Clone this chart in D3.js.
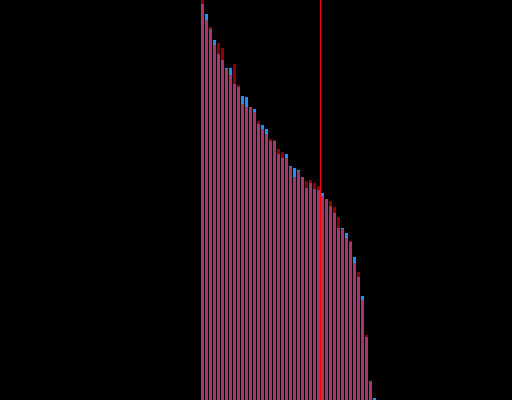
<!DOCTYPE html>
<html>
<head>
<meta charset="utf-8">
<script src="https://cdn.jsdelivr.net/npm/d3@7/dist/d3.min.js"></script>
<style>
  html, body { margin: 0; padding: 0; background: #000; }
  svg { display: block; }
</style>
</head>
<body>
<script>
// ---- data ----
const categories = d3.range(1, 45).map(String);
const seriesA = [400, 380, 373, 355, 357, 352, 331, 325, 336, 315, 296, 293, 293, 288, 279, 271, 266, 261, 260, 251, 248, 242, 233, 223, 229, 223, 219, 220, 217, 214, 204, 201, 199, 193, 183, 171, 162, 159, 137, 128, 100, 65, 19, 0];
const seriesB = [396, 386, 371, 360, 346, 340, 332, 332, 316, 313, 304, 303, 293, 291, 276, 275, 271, 259, 259, 246, 242, 246, 234, 232, 230, 223, 212, 217, 211, 210, 207, 201, 194, 187, 172, 172, 167, 158, 143, 123, 104, 63, 19, 2];
const markerCategory = "31";
const yDomain = [0, 400];

// ---- chart ----
const W = 512, H = 400;
const colors = { base: "#a3386b", up: "#1e90ff", down: "#8b0000", marker: "#ff0000" };

const svg = d3.select("body").append("svg").attr("width", W).attr("height", H);
svg.append("rect").attr("width", W).attr("height", H).attr("fill", "#000");

const x = d3.scaleBand().domain(categories).range([200.5, 376.5]).paddingInner(0.25).paddingOuter(0.125);
const y = d3.scaleLinear().domain(yDomain).range([H, 0]);

const rows = categories.map((c, i) => ({ c, a: seriesA[i], b: seriesB[i] }));

const g = svg.append("g");
g.selectAll("rect.base").data(rows).join("rect")
  .attr("class", "base")
  .attr("x", d => x(d.c)).attr("width", x.bandwidth())
  .attr("y", d => y(Math.min(d.a, d.b)))
  .attr("height", d => y(0) - y(Math.min(d.a, d.b)))
  .attr("fill", colors.base);

g.selectAll("rect.diff").data(rows.filter(d => d.a !== d.b)).join("rect")
  .attr("class", "diff")
  .attr("x", d => x(d.c)).attr("width", x.bandwidth())
  .attr("y", d => y(Math.max(d.a, d.b)))
  .attr("height", d => y(Math.min(d.a, d.b)) - y(Math.max(d.a, d.b)))
  .attr("fill", d => d.b > d.a ? colors.up : colors.down);

const mx = x(markerCategory) - x.step() * x.paddingInner() / 2;
svg.append("line")
  .attr("x1", mx).attr("x2", mx).attr("y1", 0).attr("y2", H)
  .attr("stroke", colors.marker).attr("stroke-width", 1);
</script>
</body>
</html>
